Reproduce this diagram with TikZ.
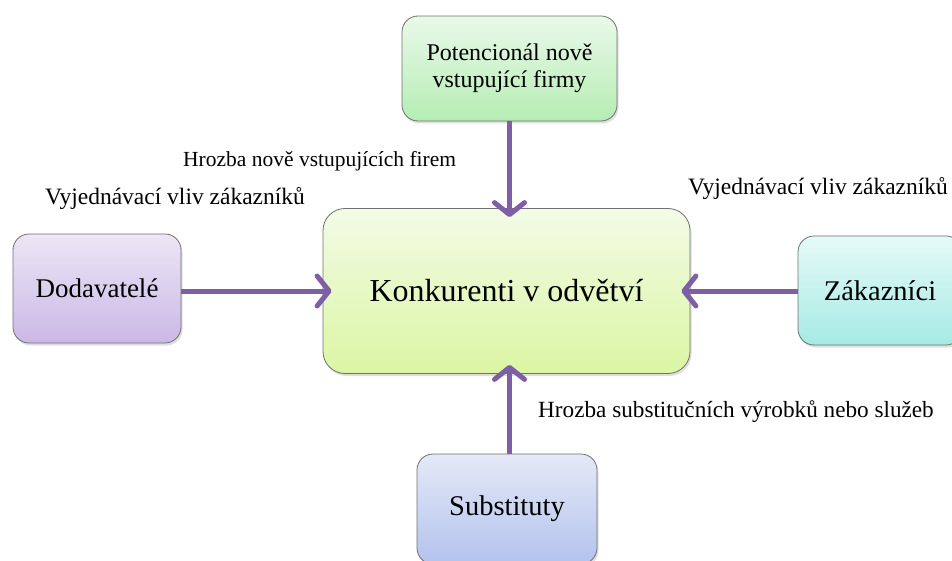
\documentclass[tikz,border=0pt]{standalone}
\usepackage{fontspec}
\setmainfont{Liberation Serif}
\usetikzlibrary{arrows.meta,shadows}
\definecolor{arrowpurple}{HTML}{7E5FA6}
\definecolor{boxborder}{HTML}{707070}
\definecolor{topA}{HTML}{EAF9EA}\definecolor{topB}{HTML}{B6EDB4}
\definecolor{mainA}{HTML}{F3FBE6}\definecolor{mainB}{HTML}{DBF6A4}
\definecolor{leftA}{HTML}{ECE6F6}\definecolor{leftB}{HTML}{CBB8E6}
\definecolor{rightA}{HTML}{E6FAF8}\definecolor{rightB}{HTML}{A6EAE3}
\definecolor{botA}{HTML}{E4E9F8}\definecolor{botB}{HTML}{B3C3EC}
\tikzset{
  forcebox/.style={draw=boxborder, line width=0.8pt, rounded corners=16pt,
    align=center, inner sep=0pt,
    drop shadow={shadow xshift=1.5pt, shadow yshift=-2.5pt, opacity=0.25}},
  forcearrow/.style={draw=arrowpurple, line width=5pt,
    -{Straight Barb[length=12pt,width=30pt,round]}, shorten >=-9pt},
  forcelabel/.style={anchor=base west, inner sep=0pt,
    font=\fontsize{21.5}{26}\selectfont}
}
\begin{document}
\begin{tikzpicture}[x=1pt,y=-1pt]
\useasboundingbox (0,0) rectangle (952,561);
\node[forcebox, top color=topA, bottom color=topB, minimum width=215pt, minimum height=105pt,
  font=\fontsize{24}{27}\selectfont] (entrants) at (509.5,68.5) {Potencionál nově\\vstupující firmy};
\node[forcebox, rounded corners=22pt, top color=mainA, bottom color=mainB, minimum width=367pt, minimum height=165pt,
  font=\fontsize{32}{36}\selectfont] (rivals) at (506.5,291) {Konkurenti v odvětví};
\node[forcebox, top color=leftA, bottom color=leftB, minimum width=168pt, minimum height=109pt,
  font=\fontsize{27}{30}\selectfont] (suppliers) at (97,288.5) {Dodavatelé};
\node[forcebox, top color=rightA, bottom color=rightB, minimum width=164pt, minimum height=109pt,
  font=\fontsize{28.5}{30}\selectfont] (buyers) at (880,290.5) {Zákazníci};
\node[forcebox, top color=botA, bottom color=botB, minimum width=180pt, minimum height=110pt,
  font=\fontsize{28.5}{30}\selectfont] (substitutes) at (507,509) {Substituty};
\draw[forcearrow] (entrants.south) -- (entrants.south |- rivals.north);
\draw[forcearrow] (suppliers.east |- rivals.center) -- (rivals.west);
\draw[forcearrow] (buyers.west |- rivals.center) -- (rivals.east);
\draw[forcearrow] (substitutes.north -| entrants.south) -- (rivals.south -| entrants.south);
\node[forcelabel] (lblentrants) at (183,167) {Hrozba nově vstupujících firem};
\node[forcelabel, font=\fontsize{23.5}{26}\selectfont] (lblsuppliers) at (45,205) {Vyjednávací vliv zákazníků};
\node[forcelabel, font=\fontsize{23.5}{26}\selectfont] (lblbuyers) at (688,195) {Vyjednávací vliv zákazníků};
\node[forcelabel, font=\fontsize{23.2}{26}\selectfont] (lblsubst) at (538,417) {Hrozba substitučních výrobků nebo služeb};
\end{tikzpicture}
\end{document}
